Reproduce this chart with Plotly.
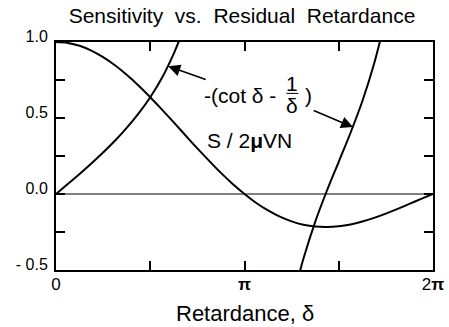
import plotly.graph_objects as go

# S/2uVN (sensitivity)
delta_s = [0.0, 0.196, 0.393, 0.589, 0.785, 0.982, 1.178, 1.374, 1.571, 1.767, 1.963,
           2.160, 2.356, 2.553, 2.749, 2.945, 3.142, 3.338, 3.534, 3.731, 3.927, 4.123,
           4.320, 4.516, 4.712, 4.909, 5.105, 5.301, 5.498, 5.694, 5.890, 6.087, 6.283]
sens = [1.0, 0.994, 0.975, 0.943, 0.900, 0.847, 0.784, 0.714, 0.637, 0.555, 0.471,
        0.385, 0.300, 0.218, 0.139, 0.066, 0.0, -0.059, -0.108, -0.149, -0.180, -0.202,
        -0.214, -0.217, -0.212, -0.200, -0.181, -0.157, -0.129, -0.098, -0.065, -0.032, 0.0]

# -(cot d - 1/d), two branches
delta_c1 = [0.0, 0.196, 0.393, 0.589, 0.785, 0.982, 1.178, 1.374, 1.571, 1.767, 1.963, 2.040, 2.060]
cot1 = [0.0, 0.066, 0.132, 0.201, 0.273, 0.350, 0.435, 0.529, 0.637, 0.765, 0.924, 0.997, 1.018]
delta_c2 = [4.070, 4.123, 4.320, 4.516, 4.712, 4.909, 5.105, 5.301, 5.400, 5.420]
cot2 = [-0.503, -0.426, -0.183, 0.023, 0.212, 0.403, 0.610, 0.857, 1.006, 1.040]

x_ticks = [0.0, 1.5708, 3.1416, 4.7124, 6.2832]
x_labels = ["0", "", "<b>π</b>", "", "2<b>π</b>"]
y_ticks = [-0.5, -0.25, 0.0, 0.25, 0.5, 0.75, 1.0]
y_labels = ["- 0.5", "", "0.0", "", "0.5", "", "1.0"]

FONT = "Liberation Sans, Arial, Helvetica, sans-serif"
line = dict(color="black", width=2)
W, H = 449, 327

fig = go.Figure()
fig.add_trace(go.Scatter(x=delta_s, y=sens, mode="lines", line=line, line_shape="spline"))
fig.add_trace(go.Scatter(x=delta_c1, y=cot1, mode="lines", line=line, line_shape="spline"))
fig.add_trace(go.Scatter(x=delta_c2, y=cot2, mode="lines", line=line, line_shape="spline"))

# zero line
fig.add_shape(type="line", x0=0, x1=6.2832, y0=0, y1=0, line=dict(color="black", width=1))

ann_font = dict(family=FONT, size=21, color="black")
# arrows
fig.add_annotation(x=1.87, y=0.84, ax=2.52, ay=0.75, axref="x", ayref="y", text="",
                   showarrow=True, arrowhead=2, arrowsize=1.5, arrowwidth=1.6, arrowcolor="black")
fig.add_annotation(x=4.95, y=0.44, ax=4.27, ay=0.553, axref="x", ayref="y", text="",
                   showarrow=True, arrowhead=2, arrowsize=1.5, arrowwidth=1.6, arrowcolor="black")
# label with stacked fraction
fig.add_annotation(x=3.06, y=0.645, text="-(cot δ -", showarrow=False, font=ann_font)
fig.add_annotation(x=3.94, y=0.727, text="1", showarrow=False, font=ann_font)
fig.add_annotation(x=3.94, y=0.579, text="δ", showarrow=False, font=ann_font)
fig.add_annotation(x=4.20, y=0.645, text=")", showarrow=False, font=ann_font)
fig.add_shape(type="line", x0=3.84, x1=4.04, y0=0.662, y1=0.662, line=dict(color="black", width=1))
fig.add_annotation(x=3.23, y=0.355, text="S / 2<b>μ</b>VN", showarrow=False, font=ann_font)

# x axis title, placed below the tick labels
fig.add_annotation(x=0.5, y=-43 / 228, xref="paper", yref="paper", text="Retardance, δ",
                   showarrow=False, yanchor="middle", font=dict(family=FONT, size=22, color="black"))

fig.update_xaxes(range=[0, 6.2832], tickvals=x_ticks, ticktext=x_labels,
                 ticks="inside", ticklen=9, tickwidth=1.5, tickcolor="black",
                 showline=True, linewidth=2, linecolor="black", mirror="ticks",
                 showgrid=False, zeroline=False, ticklabelstandoff=-2, automargin=False,
                 tickfont=dict(family=FONT, size=17, color="black"))
fig.update_yaxes(range=[-0.5, 1.0], tickvals=y_ticks, ticktext=y_labels,
                 ticks="inside", ticklen=9, tickwidth=1.5, tickcolor="black",
                 showline=True, linewidth=2, linecolor="black", mirror="ticks",
                 showgrid=False, zeroline=False, ticklabelshift=-6, ticklabelstandoff=3,
                 automargin=False, tickfont=dict(family=FONT, size=16, color="black"))

fig.update_layout(width=W, height=H, showlegend=False,
                  plot_bgcolor="white", paper_bgcolor="white",
                  margin=dict(l=56, r=16, t=42, b=57),
                  title=dict(text="Sensitivity  vs.  Residual  Retardance",
                             x=242 / W, xanchor="center", xref="container",
                             y=1 - 16 / H, yanchor="middle",
                             font=dict(family=FONT, size=21, color="black")))

# drop the default 8px body margin so the figure sits at the page corner
fig.write_html("out.html", config={"displayModeBar": False},
               post_script="document.body.style.margin='0';")
